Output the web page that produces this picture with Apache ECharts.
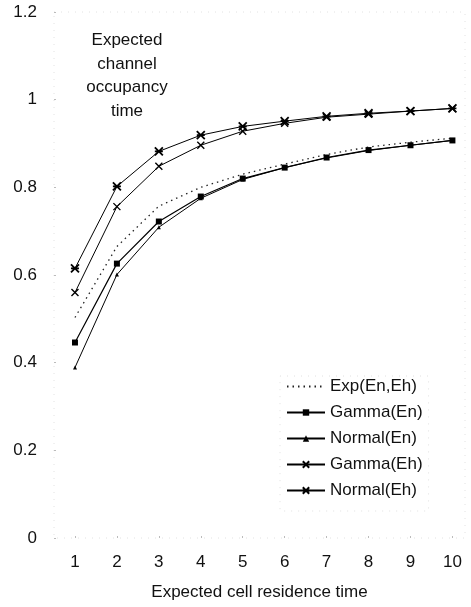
<!DOCTYPE html>
<html>
<head>
<meta charset="utf-8">
<script src="https://cdn.jsdelivr.net/npm/echarts@6/dist/echarts.min.js"></script>
<style>
html,body{margin:0;padding:0;background:#fff;}
#chart{width:471px;height:607px;}
</style>
</head>
<body>
<div id="chart"></div>
<script>
const xValues = [1, 2, 3, 4, 5, 6, 7, 8, 9, 10];
const expEnEh   = [0.503, 0.665, 0.757, 0.800, 0.830, 0.853, 0.875, 0.892, 0.903, 0.912];
const gammaEn   = [0.446, 0.626, 0.722, 0.779, 0.820, 0.845, 0.868, 0.885, 0.896, 0.907];
const normalEn  = [0.389, 0.601, 0.709, 0.775, 0.818, 0.845, 0.867, 0.884, 0.896, 0.907];
const gammaEh   = [0.560, 0.756, 0.848, 0.896, 0.928, 0.946, 0.960, 0.967, 0.974, 0.980];
const normalEh  = [0.615, 0.802, 0.882, 0.919, 0.939, 0.951, 0.962, 0.969, 0.974, 0.980];
const yTicks = [0, 0.2, 0.4, 0.6, 0.8, 1, 1.2];
const seriesNames = ['Exp(En,Eh)', 'Gamma(En)', 'Normal(En)', 'Gamma(Eh)', 'Normal(Eh)'];
const annotation = ['Expected', 'channel', 'occupancy', 'time'];
const xTitle = 'Expected cell residence time';

const FONT = '"Liberation Sans", Arial, Helvetica, sans-serif';
const pair = arr => xValues.map((x, i) => [x, arr[i]]);

const crossPath = 'path://M0,0L10,10M10,0L0,10';
const starPath = 'path://M0,0L10,10M10,0L0,10M0,5L10,5';

const chart = echarts.init(document.getElementById('chart'), null, {renderer: 'canvas'});
const baseLine = {type: 'line', color: '#000', showSymbol: true, animation: false};

const legendData = seriesNames.map((n, i) => i === 0 ? {name: n, itemStyle: {opacity: 0}} : {name: n});

chart.setOption({
  animation: false,
  backgroundColor: '#fff',
  grid: {
    left: 54, top: 12, width: 411, height: 526,
    show: true, borderColor: '#e2e2e2', borderWidth: 1, borderType: [1, 6]
  },
  xAxis: {
    type: 'value', min: 0.5, max: 10.3,
    axisLine: {show: false},
    splitLine: {show: false},
    axisTick: {show: true, inside: true, length: 2, lineStyle: {color: '#bbb'}, customValues: xValues},
    axisLabel: {customValues: xValues, color: '#111', fontSize: 17, fontFamily: FONT, margin: 16},
    name: xTitle, nameLocation: 'middle', nameGap: 46,
    nameTextStyle: {color: '#111', fontSize: 17, fontFamily: FONT}
  },
  yAxis: {
    type: 'value', min: 0, max: 1.2, interval: 0.2,
    axisLine: {show: false},
    splitLine: {show: false},
    axisTick: {show: true, inside: true, length: 2, lineStyle: {color: '#bbb'}},
    axisLabel: {color: '#111', fontSize: 17, fontFamily: FONT, margin: 17}
  },
  legend: {
    orient: 'vertical', left: 280, top: 376,
    itemWidth: 38, itemHeight: 8, itemGap: 9,
    padding: [2, 6, 12, 6],
    borderColor: '#e0e0e0', borderWidth: 1, borderType: [1, 6],
    textStyle: {color: '#111', fontSize: 17, fontFamily: FONT},
    data: legendData
  },
  graphic: [{
    type: 'text', x: 127, y: 29,
    style: {
      text: annotation.join('\n'),
      textAlign: 'center', fontSize: 17, lineHeight: 23.5,
      fontFamily: FONT, fill: '#111'
    }
  }],
  series: [
    Object.assign({}, baseLine, {
      name: seriesNames[0], data: pair(expEnEh),
      symbol: 'none',
      lineStyle: {color: '#222', width: 1.3, type: [1.5, 4]},
      itemStyle: {color: '#222'}
    }),
    Object.assign({}, baseLine, {
      name: seriesNames[1], data: pair(gammaEn),
      symbol: 'rect', symbolSize: 6,
      lineStyle: {color: '#000', width: 1.2},
      itemStyle: {color: '#000'}
    }),
    Object.assign({}, baseLine, {
      name: seriesNames[2], data: pair(normalEn),
      symbol: 'triangle', symbolSize: 4,
      lineStyle: {color: '#000', width: 1},
      itemStyle: {color: '#000'}
    }),
    Object.assign({}, baseLine, {
      name: seriesNames[3], data: pair(gammaEh),
      symbol: crossPath, symbolSize: 7,
      lineStyle: {color: '#000', width: 1},
      itemStyle: {color: 'none', borderColor: '#000', borderWidth: 1.4}
    }),
    Object.assign({}, baseLine, {
      name: seriesNames[4], data: pair(normalEh),
      symbol: starPath, symbolSize: 8,
      lineStyle: {color: '#000', width: 1},
      itemStyle: {color: 'none', borderColor: '#000', borderWidth: 1.8}
    })
  ]
});
</script>
</body>
</html>
